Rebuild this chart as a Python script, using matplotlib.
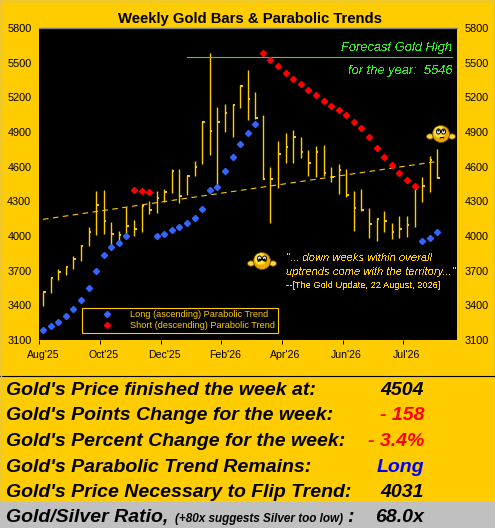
import numpy as np
import matplotlib
matplotlib.use('Agg')
import matplotlib.pyplot as plt
from matplotlib.patches import Circle, Ellipse, Rectangle, Arc

plt.rcParams['font.family'] = ['Liberation Sans', 'DejaVu Sans']

GOLD = '#FFCC00'

highs = [3518, 3648, 3712, 3735, 3827, 3919, 4075, 4390, 4398, 4118, 4043, 4248, 4138, 4268,
         4303, 4390, 4404, 4577, 4577, 4528, 4649, 4989, 5581, 5113, 5142, 5139, 5304, 5436,
         5243, 5047, 4594, 4822, 4888, 4917, 4854, 4744, 4779, 4787, 4600, 4623, 4580, 4390,
         4407, 4242, 4153, 4216, 4110, 4173, 4173, 4441, 4508, 4692, 4753]
lows = [3397, 3510, 3619, 3662, 3714, 3786, 3916, 4009, 4014, 3916, 3937, 3980, 4000, 4038,
        4190, 4202, 4297, 4375, 4289, 4355, 4519, 4623, 4701, 4441, 4903, 4859, 5110, 5004,
        5012, 4490, 4110, 4418, 4629, 4629, 4678, 4519, 4513, 4519, 4465, 4364, 4340, 4043,
        4219, 3980, 3960, 4038, 3971, 3986, 3994, 4081, 4291, 4384, 4504]
closes = [3518, 3639, 3686, 3729, 3798, 3913, 4038, 4268, 4133, 4020, 4009, 4089, 4063, 4263,
          4228, 4332, 4384, 4565, 4349, 4519, 4600, 4989, 4909, 4989, 5067, 5134, 5298, 5186,
          5018, 4493, 4493, 4707, 4773, 4854, 4730, 4629, 4730, 4548, 4514, 4571, 4355, 4245,
          4228, 4104, 4147, 4133, 4032, 4058, 4095, 4404, 4436, 4658, 4504]

nan = float('nan')
long_trend = [3186, 3221, 3256, 3308, 3368, 3446, 3550, 3697, 3836, 3905, 3939, 4000,
              nan, nan, nan,
              4000, 4017, 4052, 4078, 4112, 4156, 4234, 4398, 4424, 4562, 4684, 4796, 4891, 4969] \
             + [nan] * 21 + [3957, 3983, 4031]
short_trend = [nan] * 12 + [4398, 4389, 4381] + [nan] * 14 \
              + [5584, 5523, 5471, 5411, 5359, 5315, 5263, 5220, 5168, 5125, 5090, 5047, 4987,
                 4935, 4857, 4761, 4684, 4614, 4545, 4485, 4433] + [nan] * 3

trend_x = [0, 52.1]
trend_y = [4144, 4646]
forecast_high = 5546
forecast_x = [19, 54]

y_ticks = [3100, 3400, 3700, 4000, 4300, 4600, 4900, 5200, 5500, 5800]
x_labels = ["Aug'25", "Oct'25", "Dec'25", "Feb'26", "Apr'26", "Jun'26", "Jul'26"]
x_label_pos = [0, 8, 16, 24, 32, 40, 48]

stat_labels = ["Gold's Price finished the week at:", "Gold's Points Change for the week:",
               "Gold's Percent Change for the week:", "Gold's Parabolic Trend Remains:",
               "Gold's Price Necessary to Flip Trend:"]
stat_values = ["4504", "- 158", "- 3.4%", "Long", "4031"]
stat_colors = ['black', '#FF0000', '#FF0000', '#0000FF', 'black']

W, H = 495, 528
fig = plt.figure(figsize=(W / 100, H / 100), dpi=100, facecolor=GOLD)

# pixel overlay for panel, text and smilies
bg = fig.add_axes([0, 0, 1, 1], zorder=0)
bg.set_xlim(0, W)
bg.set_ylim(H, 0)
bg.axis('off')
bg.add_patch(Rectangle((0, 502), W, 26, color='#C0C0C0', lw=0))
bg.plot([0, W], [375.5, 375.5], color='black', lw=0.8)
bg.plot([494.5, 494.5], [0, 375.5], color='black', lw=0.8)
bg.plot([0, W], [0.5, 0.5], color='#C0C0C0', lw=1)
bg.plot([0.5, 0.5], [0, 502], color='#C0C0C0', lw=1)

ax = fig.add_axes([39 / W, 1 - 340 / H, 418 / W, 312 / H], zorder=1)
ax.set_facecolor('black')
x = np.arange(len(closes))
ax.vlines(x, lows, highs, color=GOLD, lw=1.0)
ax.hlines(closes, x, x + 0.33, color=GOLD, lw=1.4)
ax.plot(trend_x, trend_y, color=GOLD, lw=0.8, ls=(0, (5, 4)))
ax.plot(forecast_x, [forecast_high, forecast_high], color='#33DD22', lw=0.8)
ax.plot(x, long_trend, 'D', color='#3366FF', ms=3.1, label='Long (ascending) Parabolic Trend')
ax.plot(x, short_trend, 'D', color='#FF0000', ms=3.1, label='Short (descending) Parabolic Trend')

ax.set_xlim(-0.53, 54.6)
ax.set_ylim(3100, 5800)
ax.set_yticks(y_ticks)
ax.set_xticks(np.array(x_label_pos) - 0.5)
ax.set_xticklabels([])
ax.tick_params(axis='y', length=0, labelsize=7.8, left=False, right=False,
               labelleft=True, labelright=True, pad=5.5)
ax.tick_params(axis='x', length=3, width=0.7, color='black')
for s in ax.spines.values():
    s.set_visible(False)
for i, lab in zip(x_label_pos, x_labels):
    ax.annotate(lab, (i, 0), xycoords=('data', 'axes fraction'), xytext=(0, -11),
                textcoords='offset points', ha='center', va='center', fontsize=7.6)

leg = ax.legend(loc='lower left', bbox_to_anchor=(43 / 418, 7 / 312), frameon=True, fontsize=6.6,
                labelcolor=GOLD, facecolor='black', edgecolor=GOLD, fancybox=False,
                framealpha=1, borderpad=0.3, labelspacing=0.2, handletextpad=0.1,
                handlelength=4.85, borderaxespad=0)
leg.get_frame().set_linewidth(0.8)

top = fig.add_axes([0, 0, 1, 1], zorder=2)
top.set_xlim(0, W)
top.set_ylim(H, 0)
top.axis('off')
top.patch.set_alpha(0)

top.plot([39, 457], [28, 28], color='#808080', lw=1)
top.text(249.5, 19.5, 'Weekly Gold Bars & Parabolic Trends', ha='center', va='center',
         fontsize=10.7, fontweight='bold')

top.text(452, 48, 'Forecast Gold High', color='#33EE22', style='italic', ha='right', va='center',
         fontsize=9.3, antialiased=False)
top.text(452, 71, 'for the year:  5546', color='#33EE22', style='italic', ha='right', va='center',
         fontsize=9.3, antialiased=False)

top.text(286, 258, '"... down weeks within overall', color=GOLD, style='italic', va='center',
         fontsize=8, antialiased=False)
top.text(286, 272, 'uptrends come with the territory..."', color=GOLD, style='italic', va='center',
         fontsize=8, antialiased=False)
top.text(286, 286, '--[The Gold Update, 22 August, 2026]', color=GOLD, va='center', fontsize=6.7,
         antialiased=False)


def smiley(cx, cy, r, up):
    for hx in (cx - r - 2.5, cx + r + 2.5):
        top.add_patch(Ellipse((hx, cy + 2.5), 7, 5.5, fc='#FFD23C', ec='#5A4500', lw=0.6))
    top.add_patch(Circle((cx, cy), r, fc='#F0A800', ec='#6B5200', lw=0.6))
    top.add_patch(Circle((cx - 1.5, cy - 2), r * 0.68, fc='#FFE040', ec='none'))
    for ex in (cx - 2.5, cx + 2.5):
        top.add_patch(Ellipse((ex, cy - 2.5), 4, 5, fc='white', ec='black', lw=0.7))
        top.add_patch(Circle((ex, cy - (3.5 if up else 1.5)), 1.1, fc='black', ec='none'))
    if up:
        top.add_patch(Arc((cx + 1, cy + 5), 5, 3, theta1=200, theta2=340, color='black', lw=0.8))
    else:
        top.add_patch(Arc((cx, cy + 2), 9, 7, theta1=200, theta2=340, color='black', lw=0.9))


smiley(441, 134, 8.5, True)
smiley(262, 261, 8.5, False)

baselines = [395, 420, 446, 472, 497]
for b, lab, val, col in zip(baselines, stat_labels, stat_values, stat_colors):
    top.text(6, b, lab, fontsize=14, fontweight='bold', style='italic', va='baseline')
    top.text(424, b, val, fontsize=14, fontweight='bold', style='italic', va='baseline', ha='right', color=col)

top.text(6, 522, 'Gold/Silver Ratio,', fontsize=14, fontweight='bold', style='italic', va='baseline')
top.text(175, 522, '(+80x suggests Silver too low)', fontsize=8.5, fontweight='bold', style='italic', va='baseline')
top.text(347, 522, ':', fontsize=14, fontweight='bold', style='italic', va='baseline')
top.text(424, 522, '68.0x', fontsize=14, fontweight='bold', style='italic', va='baseline', ha='right')

fig.savefig('out.png', dpi=100, facecolor=GOLD)
